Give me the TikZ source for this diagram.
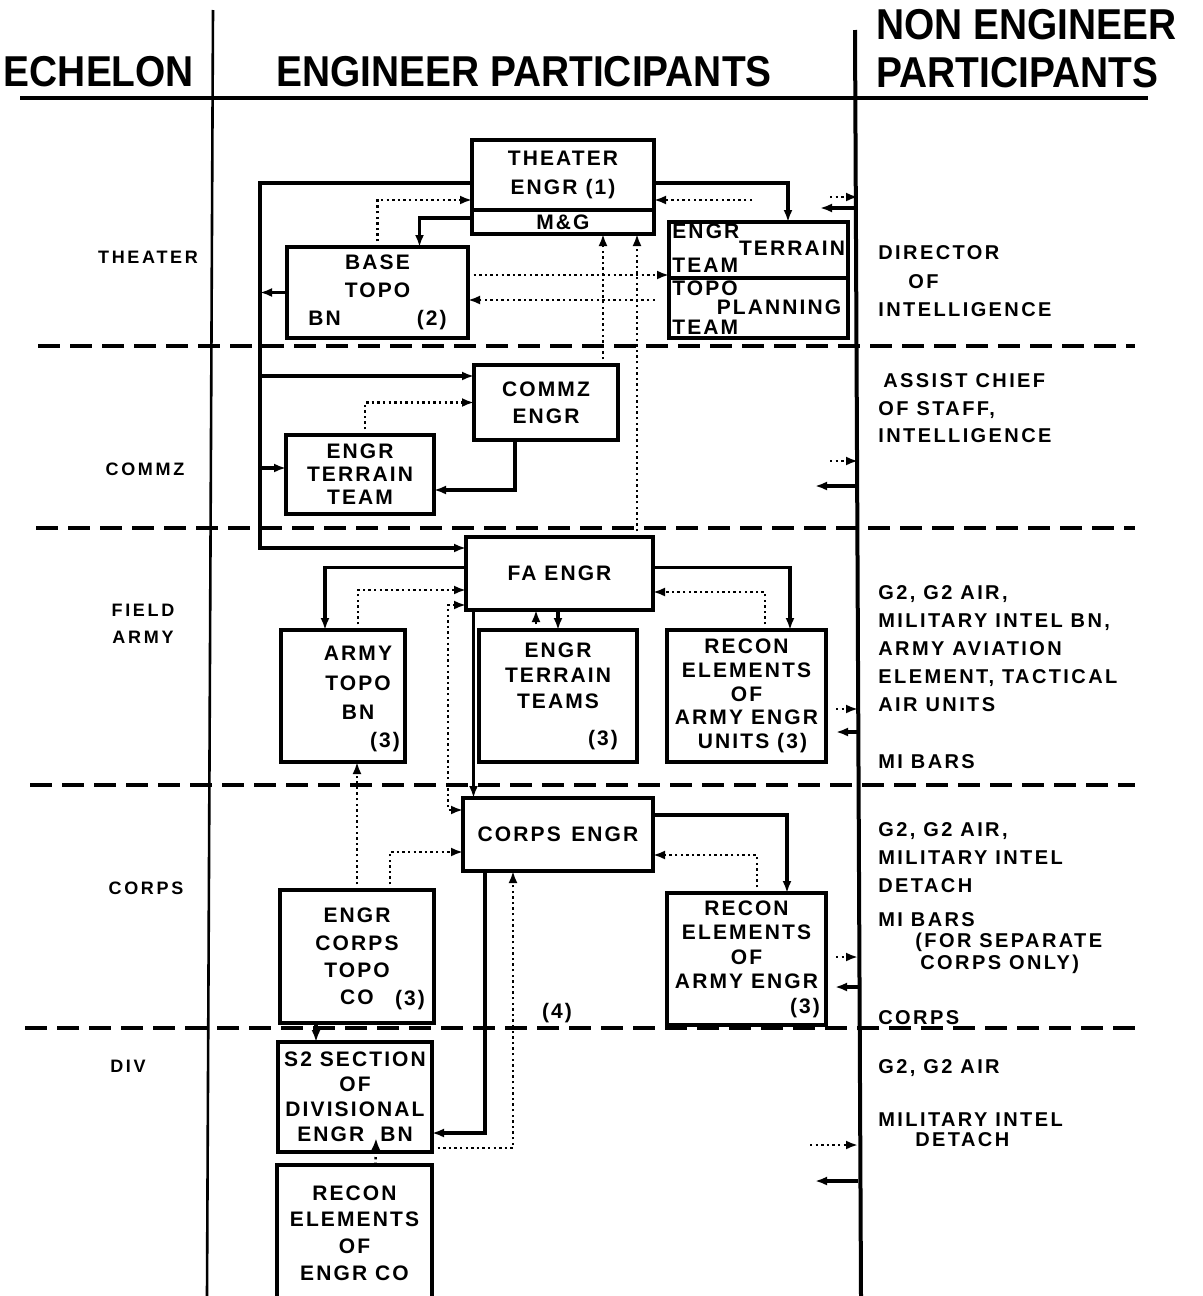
\documentclass[tikz,border=0pt]{standalone}
\usepackage{fontspec}
\setmainfont{Liberation Sans}
\newfontfamily\headfont[FakeStretch=0.9]{Liberation Sans}
\newfontfamily\boxfont[LetterSpace=10]{Liberation Sans}
\newfontfamily\sidefont[LetterSpace=12]{Liberation Sans}
\newfontfamily\echefont[LetterSpace=15]{Liberation Sans}
\usetikzlibrary{arrows.meta}
\usetikzlibrary{positioning}

\tikzset{
  box/.style={draw, line width=1.8pt, inner sep=0pt, outer sep=0pt, align=center,
    font=\boxfont\bfseries\fontsize{10.5}{#1}\selectfont},
  box/.default=13,
  lbl/.style={inner sep=0pt, align=center, font=\boxfont\bfseries\fontsize{10.5}{#1}\selectfont},
  lbl/.default=13,
  side/.style={inner sep=0pt, align=left, anchor=west, font=\sidefont\bfseries\fontsize{10}{#1}\selectfont},
  side/.default=14,
  eche/.style={inner sep=0pt, align=center, font=\echefont\bfseries\fontsize{9}{13.5}\selectfont},
  hdr/.style={inner sep=0pt, font=\headfont\bfseries\fontsize{21.6}{24}\selectfont},
  conn/.style={line width=1.8pt},
  info/.style={line width=1.3pt, dash pattern=on 1.2pt off 1.6pt},
  zone/.style={line width=2pt, dash pattern=on 11pt off 5pt},
}

\begin{document}
\begin{tikzpicture}[x=0.5pt, y=-0.5pt, >={Latex[length=6pt,width=4.5pt]}]
\useasboundingbox (0,0) rectangle (1203,1296);
% Column heads and rules
\node[hdr] (hEchelon) at (99,72) {ECHELON};
\node[hdr] (hEngr) at (524,72) {ENGINEER PARTICIPANTS};
\node[hdr, anchor=west] (hNonA) at (876,25) {NON ENGINEER};
\node[hdr, anchor=west] (hNonB) at (876,73) {PARTICIPANTS};
\draw[line width=1.8pt] (20,98) -- (1148,98);
\draw[line width=1.3pt] (213,10) -- (207,1296);
\draw[line width=2pt] (855,30) -- (861,1296);
\foreach \zy/\zx in {346/38, 528/36, 785/30, 1028/25}
  \draw[zone] (\zx,\zy) -- (1135,\zy);
% Echelons
\node[eche] (eTheater) at (148,257) {THEATER};
\node[eche] (eCommz) at (145,469) {COMMZ};
\node[eche] (eField) at (143,624) {FIELD\\ARMY};
\node[eche] (eCorps) at (146,888) {CORPS};
\node[eche] (eDiv) at (128,1066) {DIV};
% Engineer participants
\node[box=14.5, minimum width=91pt, minimum height=35pt] (theater) at (563,175) {THEATER\\ENGR (1)};
\node[box, minimum width=91pt, minimum height=12pt, below=0pt of theater] (mg) {M\&G};
\node[box=14, minimum width=90.5pt, minimum height=45.5pt] (basetopo) at (377.5,292.5) {BASE\\TOPO\\BN\hspace*{38pt}(2)};
\node[box, minimum width=89.5pt, minimum height=28pt] (terrain) at (758.5,250) {};
\node[box, minimum width=89.5pt, minimum height=30pt, below=0pt of terrain] (topoplan) {};
\node[lbl, anchor=west] (tEngr) at (672,231) {ENGR};
\node[lbl] (tTerrain) at (792,248) {TERRAIN};
\node[lbl, anchor=west] (tTeam) at (672,265) {TEAM};
\node[lbl, anchor=west] (tTopo) at (672,288) {TOPO};
\node[lbl] (tPlanning) at (779,307) {PLANNING};
\node[lbl, anchor=west] (tTeamB) at (672,327) {TEAM};
\node[box=13.5, minimum width=72pt, minimum height=37.5pt] (commz) at (546,402.5) {COMMZ\\ENGR};
\node[box=11.5, minimum width=74pt, minimum height=39.5pt] (commzteam) at (360,474.5) {ENGR\\TERRAIN\\TEAM};
\node[box, minimum width=93.5pt, minimum height=36.5pt] (faengr) at (559.5,573.5) {FA ENGR};
\node[box, minimum width=62pt, minimum height=66pt] (armytopo) at (343,696) {};
\node[lbl=14.75] (tArmyTopo) at (358,683) {ARMY\\TOPO\\BN};
\node[lbl] (nArmyTopo) at (385,742) {(3)};
\node[box=12.75, minimum width=79pt, minimum height=66pt] (fateams) at (558,696) {ENGR\\TERRAIN\\TEAMS\\[5.75pt]\hspace*{45pt}(3)};
\node[box=11.9, minimum width=79.5pt, minimum height=66pt] (farecon) at (746.5,696) {RECON\\ELEMENTS\\OF\\ARMY ENGR\\\hspace*{6pt}UNITS (3)};
\node[box, minimum width=95pt, minimum height=36.5pt] (corpsengr) at (558,834.5) {CORPS\enspace ENGR};
\node[box=13.7, minimum width=77pt, minimum height=66.5pt] (corpstopo) at (357,956.5) {ENGR\\CORPS\\TOPO\\CO};
\node[lbl] (nCorpsTopo) at (410,1000) {(3)};
\node[box=12.25, minimum width=79.5pt, minimum height=66pt] (corpsrecon) at (746.5,959) {RECON\\ELEMENTS\\OF\\ARMY ENGR\\\hspace*{58.5pt}(3)};
\node[box=12.5, minimum width=77pt, minimum height=55pt] (s2) at (355,1097) {S2 SECTION\\OF\\DIVISIONAL\\ENGR\hspace*{8pt}BN};
\node[box=13.3, minimum width=77.5pt, minimum height=68pt] (divrecon) at (354.5,1233) {RECON\\ELEMENTS\\OF\\ENGR CO};
\node[lbl] (n4) at (557,1013) {(4)};
% Non engineer participants
\node[side=14.25] (nDirector) at (878,281.5) {DIRECTOR\\\hspace*{15pt}OF\\INTELLIGENCE};
\node[side=13.75] (nAssist) at (878,408.5) {\hspace*{2.5pt}ASSIST CHIEF\\OF STAFF,\\INTELLIGENCE};
\node[side] (nFieldArmy) at (878,649) {G2, G2 AIR,\\MILITARY INTEL BN,\\ARMY AVIATION\\ELEMENT, TACTICAL\\AIR UNITS};
\node[side] (nMiBarsA) at (878,762) {MI BARS};
\node[side] (nCorpsA) at (878,858) {G2, G2 AIR,\\MILITARY INTEL\\DETACH};
\node[side=10.75] (nMiBarsB) at (878,943) {MI BARS\\\hspace*{18.5pt}(FOR SEPARATE\\\hspace*{21pt}CORPS ONLY)};
\node[side] (nCorpsB) at (878,1018) {CORPS};
\node[side] (nDivA) at (878,1068) {G2, G2 AIR};
\node[side=10] (nDivB) at (878,1130) {MILITARY INTEL\\\hspace*{18.5pt}DETACH};
% Theater
\coordinate (busBot) at (260,548);
\coordinate (busCommz) at (260,376);
\coordinate (busTeam) at (260,468);
\draw[conn,->] ([yshift=-4pt]theater.west) -| (busBot) -- (busBot -| faengr.west);
\draw[conn,->] (busCommz) -- (busCommz -| commz.west);
\draw[conn,->] (busTeam) -- (busTeam -| commzteam.west);
\draw[conn,->] (basetopo.west) -- (basetopo.west -| busBot);
\draw[conn,->] ([yshift=2pt]mg.west) -| ([xshift=21pt]basetopo.north);
\draw[conn,->] ([yshift=-4pt]theater.east) -| ([xshift=14.75pt]terrain.north);
\draw[info,->] (basetopo.north) |- ([yshift=-12.5pt]theater.west);
\coordinate (terrainIn) at (752,200);
\draw[info,->] (terrainIn) -- (terrainIn -| theater.east);
\draw[info,->] ([yshift=8.75pt]basetopo.east) -- ([yshift=8.75pt]basetopo.east -| terrain.west);
\coordinate (topoIn) at (655,300);
\draw[info,->] (topoIn) -- (topoIn -| basetopo.east);
\draw[info,->] ([xshift=28.5pt]commz.north) -- ([xshift=28.5pt]commz.north |- mg.south);
\draw[info,->] ([xshift=38.75pt]faengr.north) -- ([xshift=38.75pt]faengr.north |- mg.south);
% COMMZ
\draw[info,->] ([xshift=2.5pt]commzteam.north) |- (commz.west);
\draw[conn,->] ([xshift=-15.5pt]commz.south) |- ([yshift=-7.75pt]commzteam.east);
% Field army
\draw[conn,->] ([yshift=3pt]faengr.west) -| ([xshift=-9pt]armytopo.north);
\draw[info,->] ([xshift=7.5pt]armytopo.north) |- ([yshift=-8.25pt]faengr.west);
\coordinate (sideLink) at (448,700);
\draw[info,<->] ([yshift=-15.75pt]faengr.west) -| (sideLink) |- ([yshift=12.25pt]corpsengr.west);
\draw[conn,->] ([xshift=-43pt]faengr.south) -- ([xshift=-43pt]faengr.south |- corpsengr.north);
\draw[info,->] ([xshift=-11pt]fateams.north) -- ([xshift=-11pt]fateams.north |- faengr.south);
\draw[conn,->] (fateams.north |- faengr.south) -- (fateams.north);
\draw[conn,->] ([yshift=3pt]faengr.east) -| ([xshift=21.75pt]farecon.north);
\draw[info,->] ([xshift=9.25pt]farecon.north) |- ([yshift=-9.25pt]faengr.east);
% Corps
\draw[info,->] (corpstopo.north) -- (corpstopo.north |- armytopo.south);
\draw[info,->] ([xshift=16.5pt]corpstopo.north) |- ([yshift=-8.75pt]corpsengr.west);
\draw[conn,->] ([yshift=9.75pt]corpsengr.east) -| ([xshift=20.25pt]corpsrecon.north);
\draw[info,->] ([xshift=5.25pt]corpsrecon.north) |- ([yshift=-10.25pt]corpsengr.east);
\draw[conn,->] ([xshift=-36.5pt]corpsengr.south) |- ([yshift=-18pt]s2.east);
\draw[info,->] ([yshift=-25.5pt]s2.east) -| ([xshift=-22.5pt]corpsengr.south);
\draw[conn,->] ([xshift=-20.5pt]corpstopo.south) -- ([xshift=-20.5pt]corpstopo.south |- s2.north);
% Division
\draw[info,->] ([xshift=10.5pt]divrecon.north) -- ([xshift=10.5pt,yshift=7pt]s2.south);
% Links to the non engineer participants
\foreach \sy/\sx in {197/830, 461/830, 709/836, 957/836, 1145/810}
  \draw[info,->] (\sx,\sy) -- (858,\sy);
\foreach \sy/\sx in {208/820, 486/815, 732/836, 987/835, 1181/815}
  \draw[conn,->] (858,\sy) -- (\sx,\sy);
\end{tikzpicture}
\end{document}
